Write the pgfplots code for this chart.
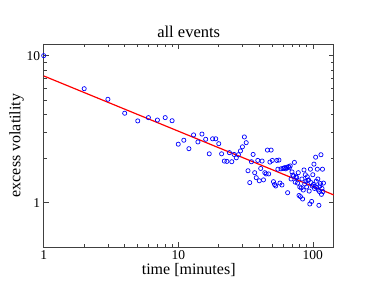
\documentclass[border=0pt]{standalone}
\usepackage{pgfplots}
\pgfplotsset{compat=1.18}
\usepackage{fontspec}
\setmainfont{Liberation Serif}
\begin{document}
\begin{tikzpicture}[x=1pt,y=1pt]
\useasboundingbox (0,0) rectangle (376,291);
\begin{axis}[
  at={(43.7pt,44pt)}, anchor=south west,
  scale only axis, width=290pt, height=203pt,
  xmode=log, ymode=log,
  xmin=1, xmax=143, ymin=0.5, ymax=12,
  xtick={1,10,100}, xticklabels={1,10,100},
  ytick={1,10}, yticklabels={1,10},
  tick align=inside,
  major tick length=5pt, minor tick length=3pt,
  axis line style={black!75, line width=0.9pt},
  every tick/.style={black!75, line width=0.6pt},
  /pgf/number format/assume math mode=true,
  tick label style={font=\fontsize{13.5}{15}\selectfont},
  title={all events},
  title style={font=\fontsize{16.5}{19}\selectfont, yshift=-3pt},
  xlabel={time [minutes]},
  ylabel={excess volatility},
  label style={font=\fontsize{16}{19}\selectfont},
  xlabel style={yshift=3pt},
  ylabel style={yshift=-4pt},
  clip=false,
]
\addplot[only marks, mark=o, mark size=2.1pt, blue, mark options={line width=0.7pt}] coordinates {
(1,10.0)(2,5.96)(3,5.05)(4,4.06)(5,3.60)(6,3.79)(7,3.65)(8,3.79)(9,3.61)
(10,2.50)(11,2.66)(12,2.33)(13,2.89)(14,2.59)(15,2.93)(16,2.70)(17,2.15)(18,2.72)(19,2.72)
(20,2.52)(21,2.15)(22,1.92)(23,1.91)(24,2.19)(25,1.90)(26,2.13)(27,2.02)(28,2.12)(29,2.25)
(30,2.40)(31,2.80)(32,2.56)(33,1.65)(34,1.37)(35,1.90)(36,2.13)(37,1.60)(38,1.48)(39,1.94)
(40,1.41)(41,1.71)(42,1.92)(43,1.43)(44,1.60)(45,1.57)(46,2.28)(47,1.57)(48,1.89)(49,2.28)
(50,1.94)(51,1.39)(52,1.33)(53,1.30)(54,1.94)(55,1.69)(56,1.95)(57,1.36)(58,1.70)(59,1.32)
(60,1.71)(61,1.72)(62,1.73)(63,1.70)(64,1.74)(65,1.17)(66,1.76)(67,1.73)(68,1.78)(69,1.45)
(70,1.62)(71,1.54)(72,1.52)(73,1.88)(74,1.38)(75,1.50)(76,1.48)(77,1.36)(78,1.60)(79,1.12)
(80,1.28)(81,1.10)(82,1.26)(83,1.45)(84,1.06)(85,1.22)(86,1.67)(87,1.34)(88,1.55)(89,1.40)
(90,1.28)(91,1.50)(92,1.42)(93,1.43)(94,1.20)(95,0.98)(96,1.69)(97,1.37)(98,1.02)(99,1.30)
(100,1.55)(101,1.33)(102,1.83)(103,1.25)(104,1.29)(105,2.04)(106,1.40)(107,1.27)(108,1.69)(109,1.45)
(110,1.22)(111,0.96)(112,1.19)(113,1.30)(114,1.35)(115,2.12)(116,1.14)(117,1.25)(118,1.69)(119,1.19)
(120,1.36)
};
\addplot[red, line width=1.2pt] coordinates {(1,7.28)(143,1.13)};
\end{axis}
\end{tikzpicture}
\end{document}
